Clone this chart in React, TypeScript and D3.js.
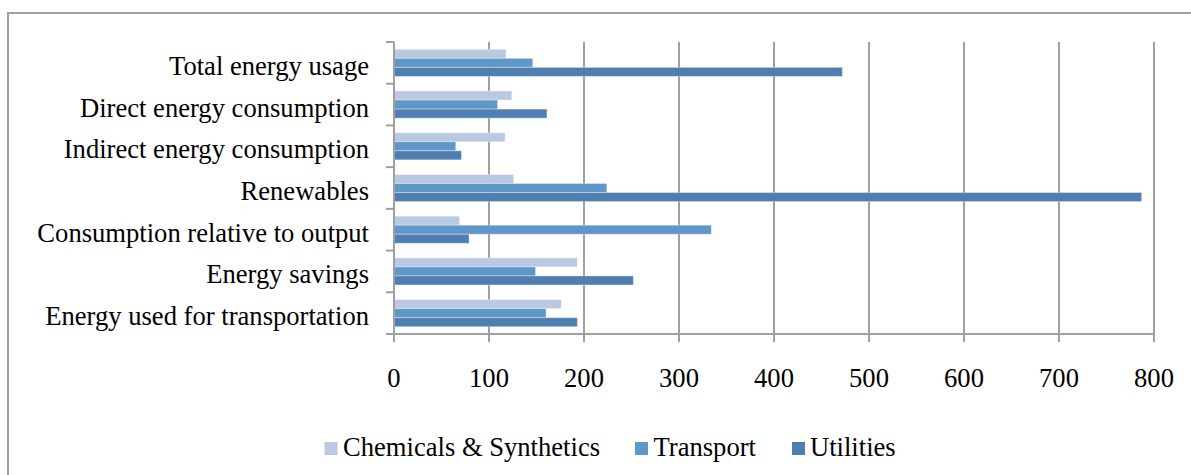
import React from "react";
import * as d3 from "d3";

// Categories (top to bottom) and the three series
const categories = [
  "Total energy usage",
  "Direct energy consumption",
  "Indirect energy consumption",
  "Renewables",
  "Consumption relative to output",
  "Energy savings",
  "Energy used for transportation",
];
const seriesNames = ["Chemicals & Synthetics", "Transport", "Utilities"];
const chemicals = [118, 124, 117, 126, 69, 193, 176];
const transport = [146, 109, 65, 224, 334, 149, 160];
const utilities = [472, 161, 71, 787, 79, 252, 193];
const xTicks = [0, 100, 200, 300, 400, 500, 600, 700, 800];

const colors = ["#B9C9E2", "#6097C9", "#4F7EB0"];
const gridColor = "#A0A0A0";
const font = "'Liberation Serif', 'Times New Roman', serif";

export default function App() {
  const W = 1191;
  const H = 475;
  const left = 394;
  const right = 1154;
  const top = 42;
  const bottom = 334;

  const x = d3.scaleLinear().domain([0, 800]).range([left, right]);
  const y0 = d3
    .scaleBand<string>()
    .domain(categories)
    .range([top, bottom])
    .paddingInner(0.35)
    .paddingOuter(0.175);
  const y1 = d3
    .scaleBand<string>()
    .domain(seriesNames)
    .range([0, y0.bandwidth()]);

  const seriesValues = [chemicals, transport, utilities];
  const step = (bottom - top) / categories.length;
  const boundaries = d3.range(categories.length + 1).map((i) => top + i * step);

  const legendItems = [
    { name: seriesNames[0], sx: 324.5, tx: 343 },
    { name: seriesNames[1], sx: 635, tx: 653.5 },
    { name: seriesNames[2], sx: 792, tx: 810 },
  ];

  return (
    <svg
      width={W}
      height={H}
      style={{ position: "absolute", left: 0, top: 0, background: "#fff" }}
    >
      {/* chart frame */}
      <rect x={8} y={13} width={W + 10} height={H + 10} fill="#fff" stroke={gridColor} strokeWidth={2} />

      {/* vertical gridlines */}
      {xTicks.slice(1).map((t) => (
        <line key={"g" + t} x1={x(t)} x2={x(t)} y1={top} y2={bottom} stroke={gridColor} strokeWidth={2} />
      ))}

      {/* bars */}
      {categories.map((c, i) => (
        <g key={c} transform={`translate(0,${y0(c)})`}>
          {seriesNames.map((s, k) => (
            <rect
              key={s}
              x={x(0)}
              y={y1(s)}
              width={x(seriesValues[k][i]) - x(0)}
              height={y1.bandwidth()}
              fill={colors[k]}
              stroke="#ffffff"
              strokeOpacity={0.35}
              strokeWidth={1}
            />
          ))}
        </g>
      ))}

      {/* category axis */}
      <line x1={left} x2={left} y1={top} y2={bottom + 1} stroke={gridColor} strokeWidth={2} />
      {boundaries.map((b, i) => (
        <line key={"yt" + i} x1={left - 8} x2={left} y1={b} y2={b} stroke={gridColor} strokeWidth={2} />
      ))}
      {categories.map((c) => (
        <text
          key={"l" + c}
          x={369}
          y={(y0(c) ?? 0) + y0.bandwidth() / 2 + 12}
          textAnchor="end"
          fontFamily={font}
          fontSize={26.6}
          fill="#000"
        >
          {c}
        </text>
      ))}

      {/* value axis */}
      <line x1={left - 1} x2={right + 1} y1={bottom} y2={bottom} stroke={gridColor} strokeWidth={2} />
      {xTicks.map((t) => (
        <line key={"xt" + t} x1={x(t)} x2={x(t)} y1={bottom} y2={bottom + 8} stroke={gridColor} strokeWidth={2} />
      ))}
      {xTicks.map((t) => (
        <text
          key={"xl" + t}
          x={x(t)}
          y={387}
          textAnchor="middle"
          fontFamily={font}
          fontSize={26.6}
          fill="#000"
        >
          {t}
        </text>
      ))}

      {/* legend */}
      {legendItems.map((it, k) => (
        <g key={it.name}>
          <rect x={it.sx} y={442} width={13} height={13} fill={colors[k]} />
          <text x={it.tx} y={456} fontFamily={font} fontSize={26.6} fill="#000">
            {it.name}
          </text>
        </g>
      ))}
    </svg>
  );
}
